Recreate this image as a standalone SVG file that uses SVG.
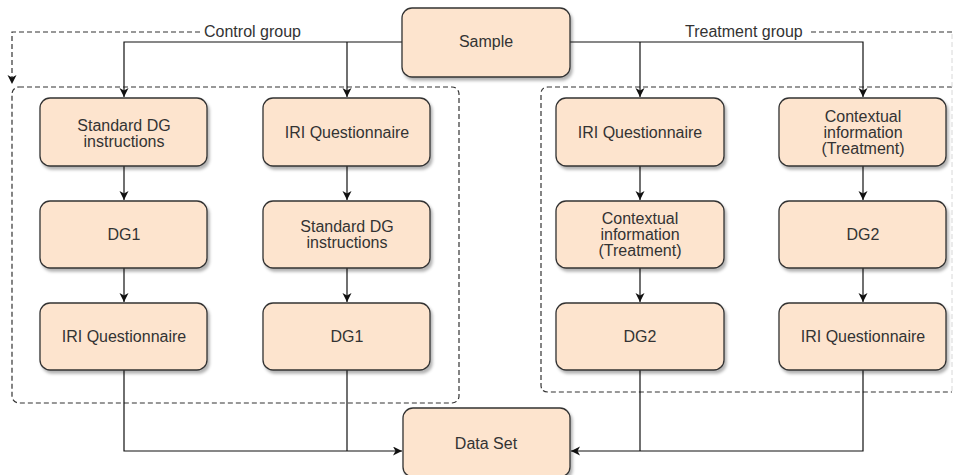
<svg xmlns="http://www.w3.org/2000/svg" width="954" height="475" viewBox="0 0 954 475">
<style>
.box{fill:#FDE4CE;stroke:#333;stroke-width:1.3}
.t{font-family:"Liberation Sans",Arial,sans-serif;font-size:16px;fill:#333;text-anchor:middle}
.lbl{font-family:"Liberation Sans",Arial,sans-serif;font-size:16px;fill:#333}
.c{fill:none;stroke:#111;stroke-width:1.2}
.d{fill:none;stroke:#333;stroke-width:1.2;stroke-dasharray:5 3}
</style>
<defs>
<filter id="sh" x="-10%" y="-10%" width="130%" height="140%">
<feDropShadow dx="2" dy="3" stdDeviation="1.5" flood-color="#000" flood-opacity="0.3"/>
</filter>
<marker id="ar" markerUnits="userSpaceOnUse" markerWidth="10" markerHeight="10" refX="9" refY="4.5" orient="auto">
<path d="M0,0 L9,4.5 L0,9 L2.5,4.5 z" fill="#111"/>
</marker>
</defs>
<rect width="954" height="475" fill="#fff"/>
<g id="containers">
<rect class="d" x="12" y="87" width="447" height="316" rx="7"/>
<path class="d" d="M952,87 H548 Q541,87 541,94 V385 Q541,392 548,392 H952"/>
<path d="M952,34 V392" fill="none" stroke="#d8d8d8" stroke-width="1" stroke-dasharray="5 3"/>
</g>
<g id="connectors">
<path class="d" d="M200,32 H12 V84" marker-end="url(#ar)"/>
<path class="d" d="M811,32 H952"/>
<path class="c" d="M402,42 H124 V97" marker-end="url(#ar)"/>
<path class="c" d="M347,42 V97" marker-end="url(#ar)"/>
<path class="c" d="M570,42 H863 V97" marker-end="url(#ar)"/>
<path class="c" d="M640,42 V97" marker-end="url(#ar)"/>
<path class="c" d="M124,166 V200" marker-end="url(#ar)"/>
<path class="c" d="M124,268 V302" marker-end="url(#ar)"/>
<path class="c" d="M347,166 V200" marker-end="url(#ar)"/>
<path class="c" d="M347,268 V302" marker-end="url(#ar)"/>
<path class="c" d="M640,166 V200" marker-end="url(#ar)"/>
<path class="c" d="M640,268 V302" marker-end="url(#ar)"/>
<path class="c" d="M863,166 V200" marker-end="url(#ar)"/>
<path class="c" d="M863,268 V302" marker-end="url(#ar)"/>
<path class="c" d="M124,370 V451 H402" marker-end="url(#ar)"/>
<path class="c" d="M347,370 V451"/>
<path class="c" d="M863,370 V451 H571" marker-end="url(#ar)"/>
<path class="c" d="M640,370 V451"/>
<text class="lbl" x="204" y="37">Control group</text>
<text class="lbl" x="685" y="37">Treatment group</text>
</g>
<g id="sample"><rect class="box" filter="url(#sh)" x="402" y="8" width="168" height="69" rx="10"/><text class="t" x="486" y="47">Sample</text></g>
<g id="c1r1"><rect class="box" filter="url(#sh)" x="40" y="98" width="167" height="68" rx="10"/><text class="t" x="124" y="131">Standard DG</text><text class="t" x="124" y="147">instructions</text></g>
<g id="c1r2"><rect class="box" filter="url(#sh)" x="40" y="201" width="167" height="67" rx="10"/><text class="t" x="124" y="240">DG1</text></g>
<g id="c1r3"><rect class="box" filter="url(#sh)" x="40" y="303" width="167" height="67" rx="10"/><text class="t" x="124" y="342">IRI Questionnaire</text></g>
<g id="c2r1"><rect class="box" filter="url(#sh)" x="263" y="98" width="167" height="68" rx="10"/><text class="t" x="347" y="138">IRI Questionnaire</text></g>
<g id="c2r2"><rect class="box" filter="url(#sh)" x="263" y="201" width="167" height="67" rx="10"/><text class="t" x="347" y="232">Standard DG</text><text class="t" x="347" y="248">instructions</text></g>
<g id="c2r3"><rect class="box" filter="url(#sh)" x="263" y="303" width="167" height="67" rx="10"/><text class="t" x="347" y="342">DG1</text></g>
<g id="c3r1"><rect class="box" filter="url(#sh)" x="556" y="98" width="168" height="68" rx="10"/><text class="t" x="640" y="138">IRI Questionnaire</text></g>
<g id="c3r2"><rect class="box" filter="url(#sh)" x="556" y="201" width="168" height="67" rx="10"/><text class="t" x="640" y="224">Contextual</text><text class="t" x="640" y="240">information</text><text class="t" x="640" y="256">(Treatment)</text></g>
<g id="c3r3"><rect class="box" filter="url(#sh)" x="556" y="303" width="168" height="67" rx="10"/><text class="t" x="640" y="342">DG2</text></g>
<g id="c4r1"><rect class="box" filter="url(#sh)" x="779" y="98" width="167" height="68" rx="10"/><text class="t" x="863" y="122">Contextual</text><text class="t" x="863" y="138">information</text><text class="t" x="863" y="154">(Treatment)</text></g>
<g id="c4r2"><rect class="box" filter="url(#sh)" x="779" y="201" width="167" height="67" rx="10"/><text class="t" x="863" y="240">DG2</text></g>
<g id="c4r3"><rect class="box" filter="url(#sh)" x="779" y="303" width="167" height="67" rx="10"/><text class="t" x="863" y="342">IRI Questionnaire</text></g>
<g id="dataset"><rect class="box" filter="url(#sh)" x="403" y="408" width="167" height="69" rx="10"/><text class="t" x="486" y="449">Data Set</text></g>
</svg>
